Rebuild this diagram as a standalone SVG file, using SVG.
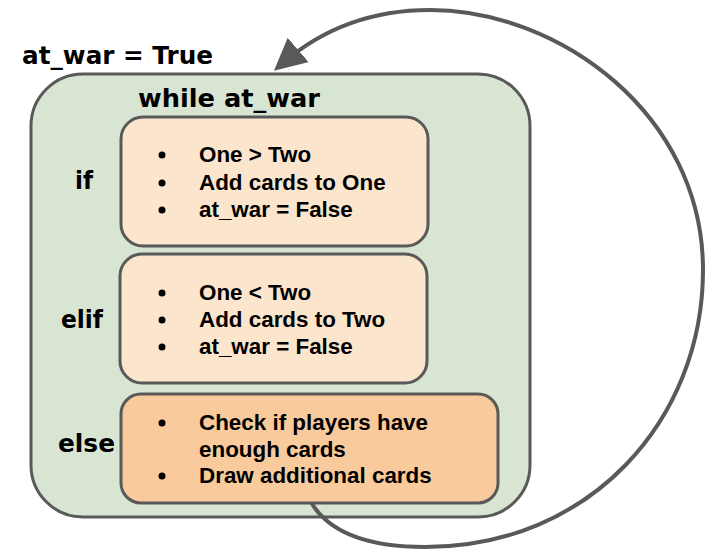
<svg xmlns="http://www.w3.org/2000/svg" width="721" height="557" viewBox="0 0 721 557">
<style>
.hd{font-family:"DejaVu Sans",sans-serif;font-weight:700;font-size:24px;fill:#000}
.bt{font-family:"Liberation Sans",Arial,sans-serif;font-weight:700;font-size:22.4px;fill:#000}
.box{stroke:#595959;stroke-width:3}
.conn{fill:none;stroke:#595959;stroke-width:4}
</style>
<defs>
<marker id="ah" markerWidth="8" markerHeight="8" refX="5" refY="4" orient="auto" markerUnits="strokeWidth">
<path d="M0,0 L8,4 L0,8 Z" fill="#595959"/>
</marker>
</defs>
<rect width="721" height="557" fill="#fff"/>
<g id="init">
<text class="hd" x="22" y="64" textLength="191" lengthAdjust="spacingAndGlyphs">at_war = True</text>
</g>
<g id="loop">
<rect class="box" x="31" y="74" width="499" height="443" rx="52" fill="#d9e5d3"/>
<text class="hd" x="138" y="107" textLength="182" lengthAdjust="spacingAndGlyphs">while at_war</text>
<text class="hd" x="75" y="189" textLength="18" lengthAdjust="spacingAndGlyphs">if</text>
<text class="hd" x="61" y="328" textLength="42" lengthAdjust="spacingAndGlyphs">elif</text>
<text class="hd" x="58" y="452" textLength="57" lengthAdjust="spacingAndGlyphs">else</text>
</g>
<g id="connectors">
<path class="conn" d="M305 490 C322 535 372 547 425 547 C590 547 703 420 703 270 C703 115 560 10 430 10 C358 10 312 38 283 63" marker-end="url(#ah)"/>
</g>
<g id="if-box">
<rect class="box" x="121" y="117" width="307" height="129" rx="22" fill="#fce5cd"/>
<circle cx="162" cy="155" r="3.5"/><text class="bt" x="199" y="162">One &gt; Two</text>
<circle cx="162" cy="183" r="3.5"/><text class="bt" x="199" y="190">Add cards to One</text>
<circle cx="162" cy="210" r="3.5"/><text class="bt" x="199" y="217">at_war = False</text>
</g>
<g id="elif-box">
<rect class="box" x="120" y="254" width="307" height="129" rx="22" fill="#fce5cd"/>
<circle cx="162" cy="293" r="3.5"/><text class="bt" x="199" y="300">One &lt; Two</text>
<circle cx="162" cy="320" r="3.5"/><text class="bt" x="199" y="327">Add cards to Two</text>
<circle cx="162" cy="347" r="3.5"/><text class="bt" x="199" y="354">at_war = False</text>
</g>
<g id="else-box">
<rect class="box" x="121" y="394" width="377" height="109" rx="20" fill="#f9cb9c"/>
<circle cx="162" cy="423" r="3.5"/><text class="bt" x="199" y="430">Check if players have</text>
<text class="bt" x="199" y="457">enough cards</text>
<circle cx="162" cy="476" r="3.5"/><text class="bt" x="199" y="483">Draw additional cards</text>
</g>
</svg>
